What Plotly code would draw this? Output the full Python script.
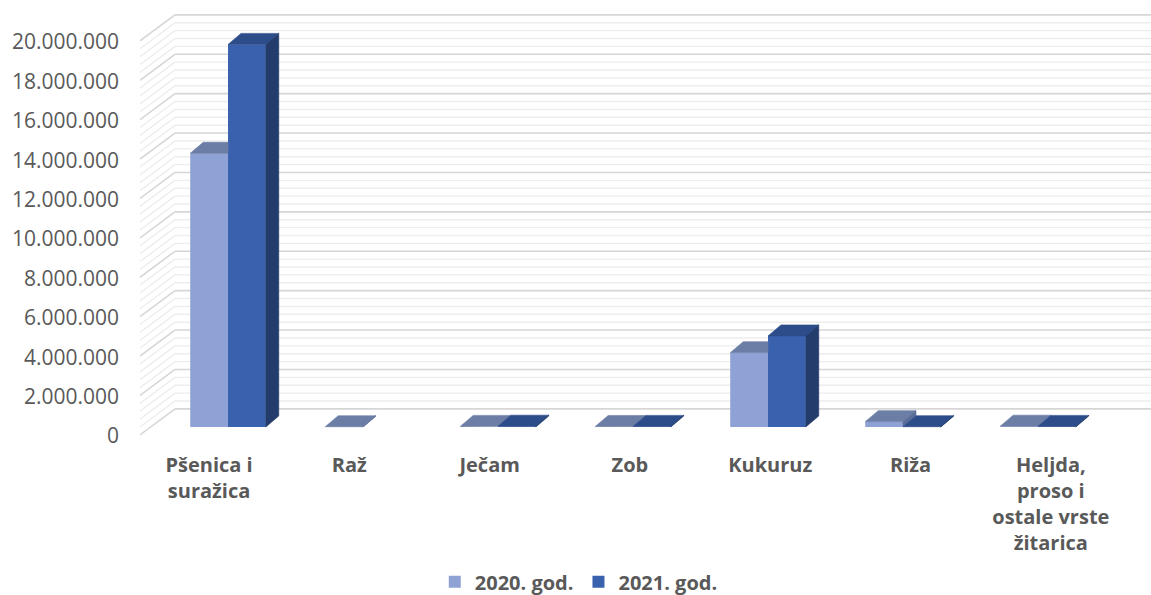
import plotly.graph_objects as go

# ---------------- data ----------------
categories = ["Pšenica i<br>suražica", "Raž", "Ječam", "Zob", "Kukuruz", "Riža",
              "Heljda,<br>proso i<br>ostale vrste<br>žitarica"]
series_names = ["2020. god.", "2021. god."]
values_2020 = [13890000, 12000, 30000, 25000, 3770000, 270000, 40000]
values_2021 = [19420000, None, 40000, 30000, 4620000, 15000, 30000]
y_tick_values = list(range(0, 20000001, 2000000))
minor_step = 400000

# ---------------- styling / geometry ----------------
C20_FRONT, C20_TOP, C20_SIDE = "#8fa2d6", "#6c7ea6", "#5b6c97"
C21_FRONT, C21_TOP, C21_SIDE = "#3a61ad", "#2c4c8a", "#243c6b"
TXT = "#595959"
BAR_W = 0.28          # width of one bar in category units
DX = 0.096            # depth shift (x, category units)
DY = 560000           # depth shift (y, data units)
BACK_OFF = 920000     # back wall offset (y)
FRONT_OFF = -400000   # front edge of side wall (y)
LABEL_OFF = 457000    # tick-label plane offset
X_MIN, X_MAX = -0.652, 6.837
BACK_X = -0.393
Y_MIN, Y_MAX = -913700, 21421000

idx = list(range(len(categories)))

fig = go.Figure()

# front faces as bars
fig.add_trace(go.Bar(x=idx, y=values_2020, name=series_names[0], offset=-BAR_W, width=BAR_W,
                     marker=dict(color=C20_FRONT, line=dict(width=0)), hoverinfo="skip"))
fig.add_trace(go.Bar(x=idx, y=values_2021, name=series_names[1], offset=0, width=BAR_W,
                     marker=dict(color=C21_FRONT, line=dict(width=0)), hoverinfo="skip"))

# 3D top / side faces computed from data
top20x, top20y, side20x, side20y = [], [], [], []
top21x, top21y, side21x, side21y = [], [], [], []
for i in idx:
    v20, v21 = values_2020[i], values_2021[i]
    x0, x1, x2 = i - BAR_W, i, i + BAR_W
    if v20 is not None:
        if v21 is not None and v21 >= v20:
            t = min(max((v21 - v20) / DY, 0), 1)
        else:
            t = 0
        if t >= 1:
            top20x += [x0, x1, x1, x0 + DX, x0, None]
            top20y += [v20, v20, v20 + DY, v20 + DY, v20, None]
        else:
            top20x += [x0, x1, x1, x1 + t * DX, x1 + DX, x0 + DX, x0, None]
            top20y += [v20, v20, v20 + t * DY, v20 + t * DY, v20 + DY, v20 + DY, v20, None]
        b = 0 if v21 is None else v21
        if b < v20:
            side20x += [x1, x1, x1 + DX, x1 + DX, x1, None]
            side20y += [b, v20, v20 + DY, b + DY, b, None]
    if v21 is not None:
        top21x += [x1, x2, x2 + DX, x1 + DX, x1, None]
        top21y += [v21, v21, v21 + DY, v21 + DY, v21, None]
        side21x += [x2, x2, x2 + DX, x2 + DX, x2, None]
        side21y += [0, v21, v21 + DY, DY, 0, None]

for xs, ys, col in [(top20x, top20y, C20_TOP), (side20x, side20y, C20_SIDE),
                    (top21x, top21y, C21_TOP), (side21x, side21y, C21_SIDE)]:
    if xs:
        fig.add_trace(go.Scatter(x=xs, y=ys, mode="lines", fill="toself", fillcolor=col,
                                 line=dict(color=col, width=0.6), showlegend=False,
                                 hoverinfo="skip"))

# invisible trace to carry label axes
fig.add_trace(go.Scatter(x=idx, y=[0] * len(idx), xaxis="x2", yaxis="y2", mode="markers",
                         marker=dict(opacity=0), showlegend=False, hoverinfo="skip"))

# walls: back-wall gridlines + side-wall diagonals
shapes = []
n = int(20000000 / minor_step)
for k in range(n + 1):
    v = k * minor_step
    major = (v % 2000000 == 0)
    col = "#d6d6d6" if major else "#ededed"
    w = 1.6 if major else 1.4
    shapes.append(dict(type="line", xref="x", yref="y", x0=BACK_X, x1=X_MAX,
                       y0=v + BACK_OFF, y1=v + BACK_OFF, line=dict(color=col, width=w),
                       layer="below"))
    shapes.append(dict(type="line", xref="x", yref="y", x0=X_MIN, x1=BACK_X,
                       y0=v + FRONT_OFF, y1=v + BACK_OFF, line=dict(color=col, width=w),
                       layer="below"))

fig.update_layout(
    width=1151, height=595,
    margin=dict(l=140, r=0, t=5, b=150, autoexpand=False),
    paper_bgcolor="white", plot_bgcolor="white",
    barmode="overlay",
    separators=",.",
    shapes=shapes,
    showlegend=True,
    hovermode=False,
    legend=dict(orientation="h", x=0.434, xanchor="center", y=-0.311, yanchor="middle",
                font=dict(family="Open Sans", size=20, color=TXT, weight="bold"),
                itemsizing="constant", traceorder="normal"),
    xaxis=dict(range=[X_MIN, X_MAX], visible=False, fixedrange=True),
    yaxis=dict(range=[Y_MIN, Y_MAX], visible=False, fixedrange=True),
    xaxis2=dict(range=[-0.492, 6.714], overlaying="x", anchor="y2", side="bottom",
                tickvals=idx, ticktext=categories, showgrid=False, zeroline=False,
                showline=False, ticks="", ticklabelstandoff=6, fixedrange=True,
                tickfont=dict(family="Open Sans", size=20, color=TXT, weight="bold")),
    yaxis2=dict(range=[Y_MIN + LABEL_OFF, Y_MAX + LABEL_OFF], overlaying="y", anchor="x2",
                side="left", tickvals=y_tick_values, tickformat=",d", showgrid=False,
                zeroline=False, showline=False, ticks="", ticklabelstandoff=20, fixedrange=True,
                tickfont=dict(family="Open Sans", size=21, color=TXT)),
)

fig.write_html("out.html", config={"displayModeBar": False, "staticPlot": True},
               post_script="document.body.style.margin='0';document.body.style.overflow='hidden';")
